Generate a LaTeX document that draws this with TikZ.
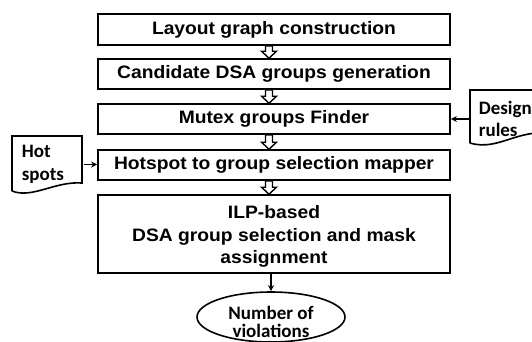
\documentclass[tikz,border=0pt]{standalone}
\usepackage{fontspec}
\setmainfont{Liberation Sans}
\newfontfamily\boxfont{Liberation Sans}[FakeStretch=1.07]
\newfontfamily\calfont{Carlito}
\usetikzlibrary{calc,arrows.meta,shapes.geometric}
\begin{document}
\begin{tikzpicture}[x=1pt,y=-1pt,
  line width=1.6pt,
  stepbox/.style={draw, rectangle, minimum width=352pt, inner sep=0pt, align=center,
    font=\boxfont\fontsize{18}{22.5}\selectfont\bfseries},
  boxtext/.style={inner sep=0pt, align=center, font=\boxfont\fontsize{18}{22.5}\selectfont\bfseries},
  doctext/.style={inner ysep=0pt, align=left, font=\calfont\fontsize{19}{22.5}\selectfont\bfseries},
  hollow/.style={draw, fill=white, line width=1.4pt, line join=miter},
  conn/.style={line width=1.6pt, -{Stealth[length=6pt,width=6pt]}}]
\useasboundingbox (0,0) rectangle (532,341);
\node[stepbox, minimum height=31pt] (b1) at (274,29.5) {Layout graph construction};
\node[stepbox, minimum height=30pt] (b2) at (274,74) {Candidate DSA groups  generation};
\node[stepbox, minimum height=30pt] (b3) at (274,119) {Mutex groups Finder};
\node[stepbox, minimum height=30pt] (b4) at (274,165) {Hotspot  to  group selection mapper};
\node[stepbox, minimum height=78pt] (b5) at (274,234) {};
\node[boxtext] (b5t) at (274,236.5) {ILP-based\\DSA group selection and mask\\assignment};
\node[draw, ellipse, minimum width=148pt, minimum height=50pt, inner sep=0pt] (nv) at (271,317) {};
\node[align=center, inner sep=0pt, font=\calfont\fontsize{19}{18}\selectfont\bfseries] (nvt) at (271,321.5) {Number of\\violations};
% hollow arrows
\foreach \a/\b in {b1/b2,b2/b3,b3/b4,b4/b5}{
  \path ($(\a.south)+(-5,0)$) coordinate (ht) ($(\b.north)+(-5,0)$) coordinate (hb);
  \draw[hollow] ($(ht)+(-3.5,0)$) -- ($(hb)+(-3.5,-7)$) -- ($(hb)+(-7.5,-7)$) -- (hb)
     -- ($(hb)+(7.5,-7)$) -- ($(hb)+(3.5,-7)$) -- ($(ht)+(3.5,0)$) -- cycle;
}
\draw[conn] (b5.south -| nv.north) -- (nv.north);
% design rules document
\node[doctext, anchor=west, text width=70pt, inner xsep=8pt] (dr) at (470,119) {Design\\rules};
\draw (dr.west |- 0,143) -- (470,90) -- (560,90) -- (560,135)
  .. controls (520,125) and (500,152) .. (470,143);
\draw[conn] (dr.west) -- (b3.east);
% hot spots document
\node[doctext, anchor=west, text width=52pt, inner xsep=9pt] (hs) at (12,164.5) {Hot\\spots};
\draw (12,191) -- (12,136) -- (82,136) -- (82,183)
  .. controls (55,181) and (32,199) .. (12,191);
\draw[conn] (hs.east) -- (b4.west |- hs.east);
\end{tikzpicture}
\end{document}
